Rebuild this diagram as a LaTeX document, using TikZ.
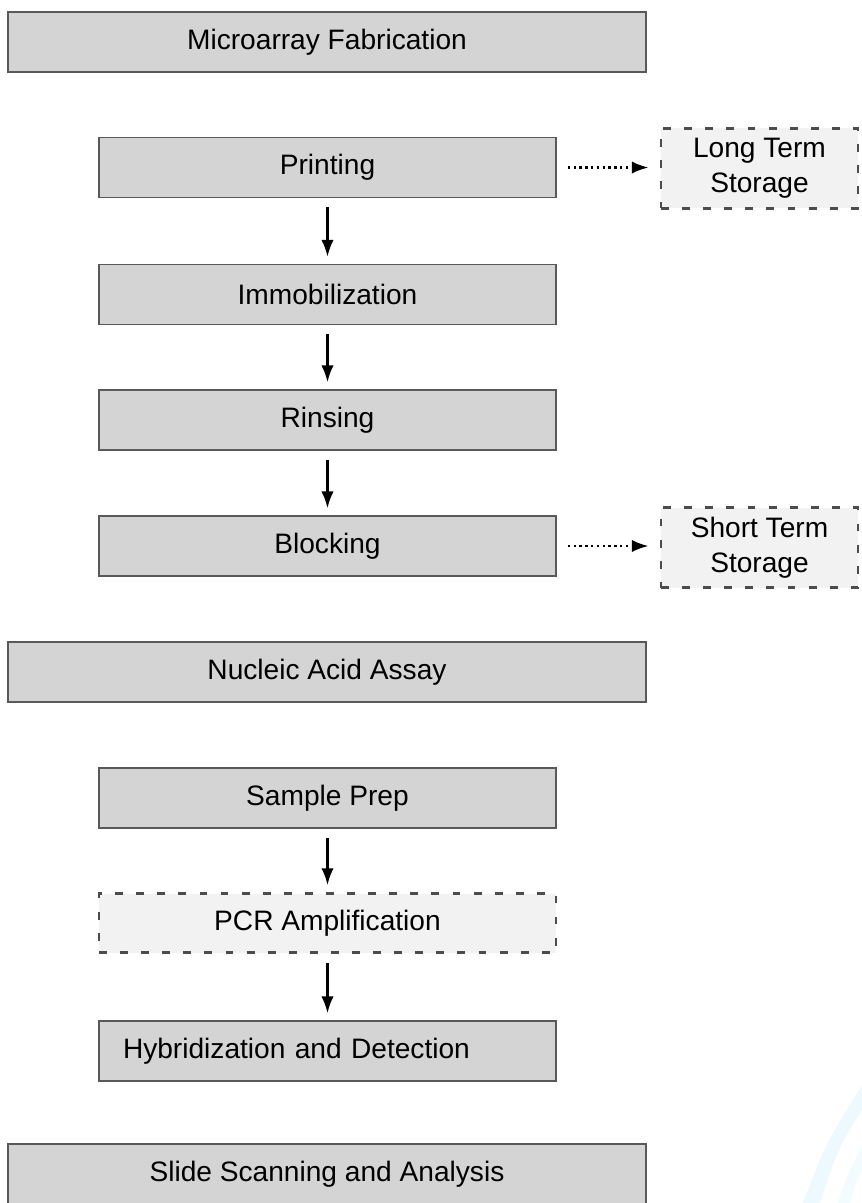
\documentclass[tikz,border=0pt]{standalone}
\usepackage{fontspec}
\setmainfont{Liberation Sans}
\usetikzlibrary{arrows.meta, positioning}

\tikzset{
	stage/.style = {draw = black!65, line width = 1pt, fill = black!17, minimum height = 1.2cm, inner sep = 0pt},
	widestage/.style = {stage, minimum width = 12.76cm},
	substage/.style = {stage, minimum width = 9.14cm},
	optional/.style = {draw = black!70, line width = 1.7pt, dash pattern = on 4.5pt off 7.5pt, fill = black!5, inner sep = 0pt},
	storage/.style = {optional, minimum width = 3.94cm, minimum height = 1.6cm, align = center}
}

\begin{document}
\begin{tikzpicture}[> = {Latex[length = 9.5pt, width = 7pt]}, font = \fontsize{16}{20}\selectfont]

	\useasboundingbox (0, 0) rectangle (17.24, -24.06);

	% Faint swoosh in the corner

	\fill [cyan!7] (16.06, -24.06) .. controls (16.5, -22.9) .. (17.24, -21.7) -- (17.24, -22.2) .. controls (16.75, -23.0) .. (16.4, -24.06) -- cycle;
	\fill [cyan!5] (16.75, -24.06) .. controls (16.95, -23.5) .. (17.24, -22.9) -- (17.24, -23.4) .. controls (17.1, -23.7) .. (17.0, -24.06) -- cycle;

	% Microarray fabrication

	\node (fab) [widestage] at (6.54, -0.84) {Microarray Fabrication};

	\node (print) [substage] at (6.55, -3.35) {Printing};
	\node (immob) [substage] at (6.55, -5.89) {Immobilization};
	\node (rinse) [substage] at (6.55, -8.40) {Rinsing};
	\node (block) [substage] at (6.55, -10.92) {Blocking};

	\node (longterm) [storage] at (15.19, -3.36) {Long Term\\Storage};
	\node (shortterm) [storage] at (15.19, -10.95) {Short Term\\Storage};

	% Nucleic acid assay

	\node (assay) [widestage] at (6.54, -13.44) {Nucleic Acid Assay};

	\node (sample) [substage] at (6.55, -15.96) {Sample Prep};
	\node (pcr) [optional, minimum width = 9.14cm, minimum height = 1.18cm] at (6.55, -18.46) {PCR Amplification};
	\node (hybrid) [substage, text width = 8.18cm, align = left, inner xsep = 0.48cm] at (6.55, -21.02) {Hybridization and Detection};

	\node (scan) [widestage] at (6.54, -23.48) {Slide Scanning and Analysis};

	% Arrows between steps

	\begin{scope}[->, line width = 1.2pt, shorten < = 0.18cm, shorten > = 0.14cm, xshift = 0.03cm]

		\draw (print) -- (immob);
		\draw (immob) -- (rinse);
		\draw (rinse) -- (block);
		\draw (sample) -- (pcr);
		\draw (pcr) -- (hybrid);

	\end{scope}

	% Storage arrows

	\begin{scope}[->, dotted, line width = 1.3pt, shorten < = 0.22cm, shorten > = 0.22cm]

		\draw (print.east) -- (print.east -| longterm.west);
		\draw (block.east) -- (block.east -| shortterm.west);

	\end{scope}

\end{tikzpicture}
\end{document}
